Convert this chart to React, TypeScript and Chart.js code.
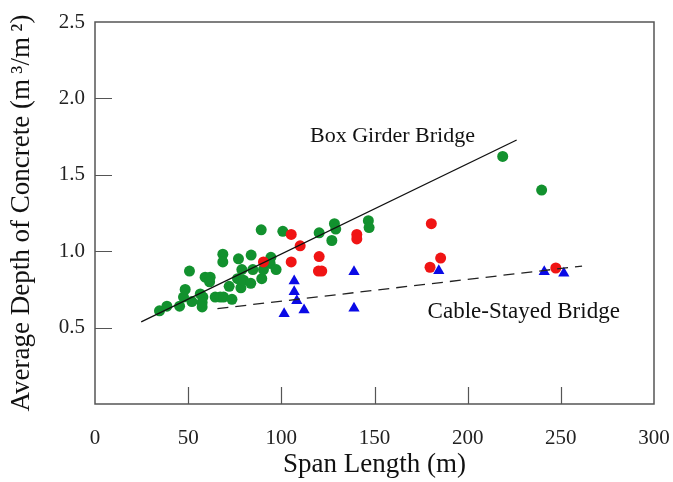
import React, { useEffect, useRef } from 'react';
import { Chart, registerables } from 'chart.js';

Chart.register(...registerables);

// ---- data ----
const greenSpan = [34.6, 38.6, 45.4, 47.5, 48.4, 50.7, 52.0, 56.5, 57.9, 57.5, 57.5, 59.1, 61.8, 61.5, 64.5, 67.2, 69.0, 73.5, 68.6, 68.6, 72.0, 78.3, 76.5, 79.7, 78.8, 77.0, 83.8, 83.6, 84.7, 89.5, 90.4, 89.2, 94.4, 94.0, 97.2, 100.8, 120.3, 127.1, 128.5, 129.2, 146.7, 147.1, 218.8, 239.7];
const greenDepth = [0.61, 0.64, 0.64, 0.70, 0.75, 0.87, 0.67, 0.72, 0.70, 0.665, 0.635, 0.83, 0.83, 0.80, 0.70, 0.70, 0.70, 0.685, 0.98, 0.93, 0.77, 0.76, 0.82, 0.81, 0.88, 0.95, 0.975, 0.79, 0.88, 0.82, 0.88, 1.14, 0.96, 0.92, 0.88, 1.13, 1.12, 1.07, 1.18, 1.145, 1.20, 1.155, 1.62, 1.40];

const redSpan = [90.4, 105.3, 105.3, 110.1, 120.3, 119.9, 121.7, 140.5, 140.5, 180.5, 179.8, 185.5, 247.3];
const redDepth = [0.93, 1.11, 0.93, 1.035, 0.965, 0.87, 0.87, 1.11, 1.08, 1.18, 0.895, 0.955, 0.89];

const blueSpan = [101.5, 106.9, 106.9, 108.3, 112.2, 139.0, 139.0, 184.5, 241.1, 251.6];
const blueDepth = [0.59, 0.805, 0.735, 0.676, 0.615, 0.866, 0.626, 0.872, 0.866, 0.855];

const boxLineSpan = [24.8, 226.3];
const boxLineDepth = [0.537, 1.728];
const cableLineSpan = [65.7, 261.4];
const cableLineDepth = [0.624, 0.903];

const xTickValues = [0, 50, 100, 150, 200, 250, 300];
const yTickValues = [0, 0.5, 1.0, 1.5, 2.0, 2.5];

const boxLabel = 'Box Girder Bridge';
const boxLabelAt = [115.4, 1.755];
const cableLabel = 'Cable-Stayed Bridge';
const cableLabelAt = [178.5, 0.60];

const xTitle = 'Span Length (m)';
const yTitle = 'Average Depth of Concrete (m\u2009\u00B3/m\u2009\u00B2)';

const SERIF = '"Liberation Serif", "Times New Roman", serif';

const zip = (xs: number[], ys: number[]) => xs.map((x, i) => ({ x, y: ys[i] }));

const framePlugin = {
  id: 'frameAndTicks',
  afterDatasetsDraw(chart: any) {
    const { ctx, chartArea: a, scales } = chart;
    const xs = scales.x;
    const ys = scales.y;
    ctx.save();
    ctx.strokeStyle = '#555';
    ctx.lineWidth = 1.5;
    ctx.strokeRect(a.left, a.top, a.right - a.left, a.bottom - a.top);
    ctx.lineWidth = 1.2;
    ctx.beginPath();
    xTickValues.forEach((v) => {
      if (v <= xs.min || v >= xs.max) return;
      const px = Math.round(xs.getPixelForValue(v)) + 0.5;
      ctx.moveTo(px, a.bottom);
      ctx.lineTo(px, a.bottom - 17);
    });
    yTickValues.forEach((v) => {
      if (v <= ys.min || v >= ys.max) return;
      const py = Math.round(ys.getPixelForValue(v)) + 0.5;
      ctx.moveTo(a.left, py);
      ctx.lineTo(a.left + 17, py);
    });
    ctx.stroke();

    ctx.fillStyle = '#111';
    ctx.textBaseline = 'middle';
    ctx.textAlign = 'left';
    ctx.font = '22px ' + SERIF;
    ctx.fillText(boxLabel, xs.getPixelForValue(boxLabelAt[0]), ys.getPixelForValue(boxLabelAt[1]));
    ctx.font = '23px ' + SERIF;
    ctx.fillText(cableLabel, xs.getPixelForValue(cableLabelAt[0]), ys.getPixelForValue(cableLabelAt[1]));
    ctx.restore();
  },
};

export default function App() {
  const ref = useRef<HTMLCanvasElement | null>(null);

  useEffect(() => {
    document.body.style.margin = '0';
    const canvas = ref.current;
    if (!canvas) return;
    const chart = new Chart(canvas, {
      type: 'scatter',
      data: {
        datasets: [
          {
            label: 'Box Girder Line',
            type: 'line',
            data: zip(boxLineSpan, boxLineDepth),
            borderColor: '#111',
            borderWidth: 1.3,
            pointRadius: 0,
            showLine: true,
            fill: false,
            order: 0,
          } as any,
          {
            label: 'Cable-Stayed Line',
            type: 'line',
            data: zip(cableLineSpan, cableLineDepth),
            borderColor: '#222',
            borderWidth: 1.3,
            borderDash: [11, 7],
            pointRadius: 0,
            showLine: true,
            fill: false,
            order: 0,
          } as any,
          {
            label: 'Cable-Stayed',
            data: zip(blueSpan, blueDepth),
            pointStyle: 'triangle',
            pointRadius: 6.5,
            backgroundColor: '#0a0ae6',
            borderColor: '#0a0ae6',
            borderWidth: 0,
            order: 1,
          },
          {
            label: 'Box Girder (red)',
            data: zip(redSpan, redDepth),
            pointRadius: 5.5,
            backgroundColor: '#f01414',
            borderColor: '#f01414',
            borderWidth: 0,
            order: 2,
          },
          {
            label: 'Box Girder (green)',
            data: zip(greenSpan, greenDepth),
            pointRadius: 5.5,
            backgroundColor: '#12912e',
            borderColor: '#12912e',
            borderWidth: 0,
            order: 3,
          },
        ],
      },
      options: {
        animation: false,
        responsive: false,
        layout: { padding: { top: 22, right: 19, left: 0, bottom: 0 } },
        plugins: {
          legend: { display: false },
          tooltip: { enabled: false },
        },
        scales: {
          x: {
            type: 'linear',
            min: 0,
            max: 300,
            afterBuildTicks: (scale: any) => {
              scale.ticks = xTickValues.map((v) => ({ value: v }));
            },
            afterFit: (scale: any) => {
              scale.height = 78;
              scale.paddingLeft = 0;
              scale.paddingRight = 0;
            },
            grid: { display: false, drawTicks: false },
            border: { display: false },
            ticks: {
              padding: 22,
              color: '#222',
              font: { family: SERIF, size: 21 },
              maxRotation: 0,
              callback: (v: any) => String(v),
            },
            title: {
              display: true,
              text: xTitle,
              color: '#111',
              font: { family: SERIF, size: 27 },
              padding: { top: 0, bottom: 1 },
            },
          },
          y: {
            type: 'linear',
            min: 0,
            max: 2.5,
            afterBuildTicks: (scale: any) => {
              scale.ticks = yTickValues.map((v) => ({ value: v }));
            },
            afterFit: (scale: any) => {
              scale.width = 95;
              scale.paddingTop = 0;
              scale.paddingBottom = 0;
            },
            grid: { display: false, drawTicks: false },
            border: { display: false },
            ticks: {
              padding: 10,
              color: '#222',
              font: { family: SERIF, size: 21 },
              callback: (v: any) => (Number(v) === 0 ? '' : Number(v).toFixed(1)),
            },
            title: {
              display: true,
              text: yTitle,
              color: '#111',
              font: { family: SERIF, size: 27 },
              padding: { top: 6, bottom: 0 },
            },
          },
        },
      },
      plugins: [framePlugin],
    });
    return () => chart.destroy();
  }, []);

  return (
    <div style={{ width: 673, height: 482, background: '#fff' }}>
      <canvas ref={ref} width={673} height={482} style={{ display: 'block', width: 673, height: 482 }} />
    </div>
  );
}
